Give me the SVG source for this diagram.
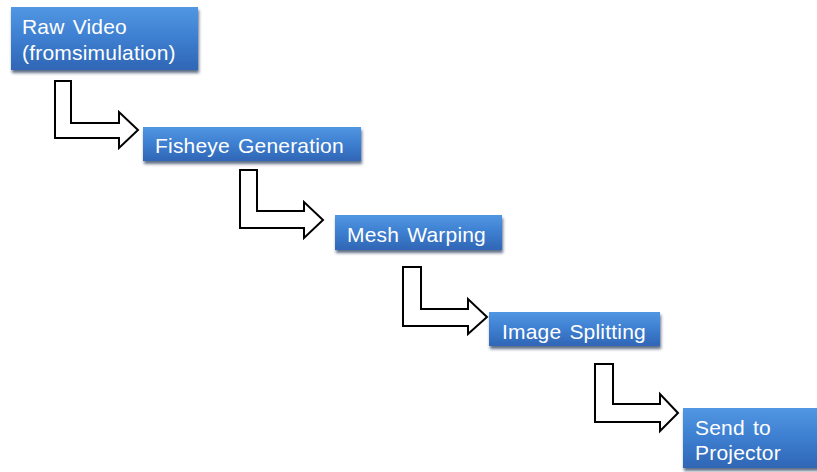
<svg xmlns="http://www.w3.org/2000/svg" width="817" height="472" viewBox="0 0 817 472">
  <style>
    .box { fill: url(#boxFill); stroke: none; filter: url(#boxShadow); }
    .label { font-family: "Liberation Sans", Arial, sans-serif; font-size: 21px; fill: #ffffff; letter-spacing: 0.2px; word-spacing: 2px; }
    .arrow { fill: #ffffff; stroke: #000000; stroke-width: 2; stroke-linejoin: miter; }
  </style>
  <defs>
    <linearGradient id="boxFill" x1="0" y1="0" x2="0" y2="1">
      <stop offset="0" stop-color="#5197e2"/>
      <stop offset="0.5" stop-color="#3d7ed0"/>
      <stop offset="1" stop-color="#3066b5"/>
    </linearGradient>
    <filter id="boxShadow" x="-10%" y="-20%" width="120%" height="150%">
      <feGaussianBlur in="SourceAlpha" stdDeviation="1.5"/>
      <feOffset dx="1" dy="3" result="blur"/>
      <feFlood flood-color="#2a3f5f" flood-opacity="0.75"/>
      <feComposite in2="blur" operator="in"/>
      <feMerge>
        <feMergeNode/>
        <feMergeNode in="SourceGraphic"/>
      </feMerge>
    </filter>
  </defs>

  <!-- step connectors -->
  <g id="connectors">
    <polygon class="arrow" points="55,81 71,81 71,123 119,123 119,112 138,130 119,148 119,138 55,138"/>
    <polygon class="arrow" points="240,170 257,170 257,211 304,211 304,202 323,220 304,238 304,228 240,228"/>
    <polygon class="arrow" points="403,267 421,267 421,309 468,309 468,299 487,317 468,334 468,326 403,326"/>
    <polygon class="arrow" points="595,364 613,364 613,404 660,404 660,394 678,413 660,431 660,422 595,422"/>
  </g>

  <g id="raw-video">
    <rect class="box" x="11" y="7" width="187" height="63"/>
    <text class="label" x="22" y="34">Raw Video</text>
    <text class="label" x="22" y="60">(fromsimulation)</text>
  </g>

  <g id="fisheye-generation">
    <rect class="box" x="143" y="127" width="218" height="34"/>
    <text class="label" x="155" y="153">Fisheye Generation</text>
  </g>

  <g id="mesh-warping">
    <rect class="box" x="335" y="215" width="167" height="35"/>
    <text class="label" x="347" y="242">Mesh Warping</text>
  </g>

  <g id="image-splitting">
    <rect class="box" x="489" y="312" width="171" height="34"/>
    <text class="label" x="502" y="339">Image Splitting</text>
  </g>

  <g id="send-to-projector">
    <rect class="box" x="683" y="408" width="140" height="60"/>
    <text class="label" x="695" y="435">Send to</text>
    <text class="label" x="695" y="460">Projector</text>
  </g>
</svg>
